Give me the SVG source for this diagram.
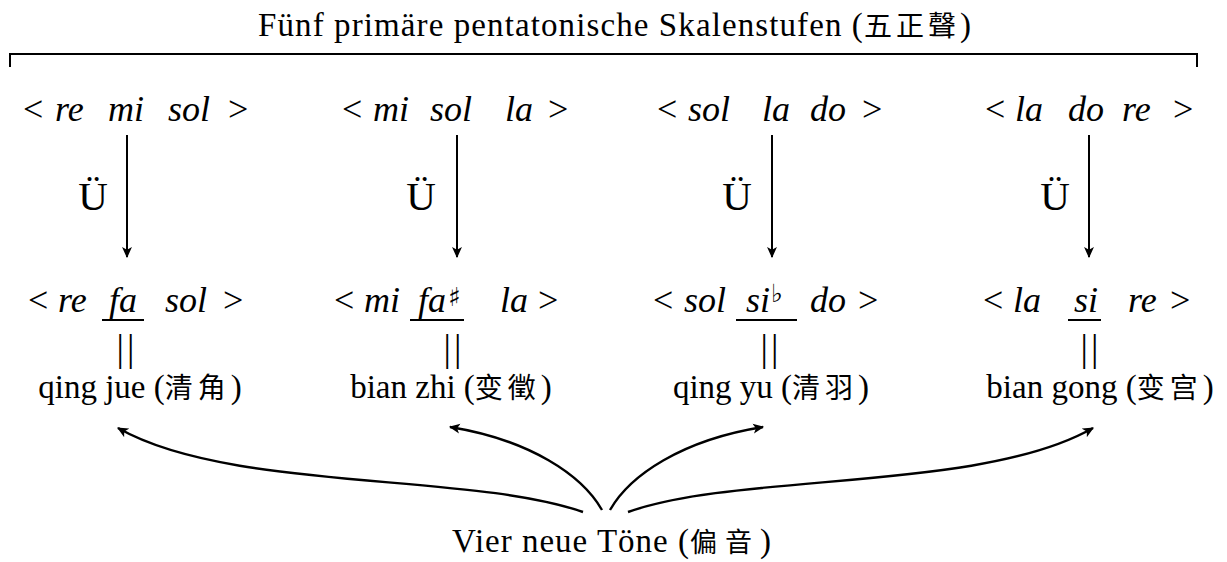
<svg xmlns="http://www.w3.org/2000/svg" width="1227" height="562" viewBox="0 0 1227 562">
<style>
  .t { font-family: "Liberation Serif", "Times New Roman", "Noto Sans CJK SC", serif; fill: #000; }
  .row { font-size: 36px; }
  .it { font-style: italic; }
  .cjk { font-family: "Noto Sans CJK SC", "Noto Sans CJK TC", sans-serif; }
  .lab { font-size: 33px; }
  .u { font-size: 41px; }
  .bar { font-size: 37px; letter-spacing: 3px; }
  .sym { font-family: "DejaVu Sans", "DejaVu Serif", sans-serif; font-style: normal; }
  .ln { stroke: #000; stroke-width: 2; fill: none; }
  .cv { stroke: #000; stroke-width: 2.4; fill: none; }
</style>
<defs>
  <marker id="ah" viewBox="0 0 10 10" refX="9" refY="5" markerWidth="11" markerHeight="11" markerUnits="userSpaceOnUse" orient="auto">
    <path d="M0,0.5 L10,5 L0,9.5 L2.5,5 Z" fill="#000"/>
  </marker>
</defs>

<g id="title">
  <text class="t" x="258" y="36" font-size="33" letter-spacing="1.1">Fünf primäre pentatonische Skalenstufen (<tspan class="cjk" font-size="28" letter-spacing="4">五正聲</tspan>)</text>
  <path class="ln" d="M10,67 V54 H1197 V67"/>
</g>

<g id="group1">
  <text class="t row" y="121"><tspan x="23">&lt;</tspan><tspan class="it" x="55">re</tspan><tspan class="it" x="108">mi</tspan><tspan class="it" x="168">sol</tspan><tspan x="228">&gt;</tspan></text>
  <text class="t u" x="93" y="210" text-anchor="middle">Ü</text>
  <text class="t row" y="312"><tspan x="28">&lt;</tspan><tspan class="it" x="58">re</tspan><tspan class="it" x="109">fa</tspan><tspan class="it" x="165">sol</tspan><tspan x="223">&gt;</tspan></text>
  <line class="ln" x1="102" y1="320" x2="144" y2="320"/>
  <text class="t bar" x="127" y="361" text-anchor="middle">||</text>
  <text class="t lab" x="140" y="398" text-anchor="middle">qing jue (<tspan class="cjk" font-size="28" letter-spacing="5">清角</tspan>)</text>
</g>

<g id="group2">
  <text class="t row" y="121"><tspan x="342">&lt;</tspan><tspan class="it" x="373">mi</tspan><tspan class="it" x="430">sol</tspan><tspan class="it" x="505">la</tspan><tspan x="548">&gt;</tspan></text>
  <text class="t u" x="421" y="210" text-anchor="middle">Ü</text>
  <text class="t row" y="312"><tspan x="334">&lt;</tspan><tspan class="it" x="364">mi</tspan><tspan class="it" x="418">fa</tspan><tspan class="sym" x="448" y="306" font-size="26">♯</tspan><tspan class="it" x="500" y="312">la</tspan><tspan x="538">&gt;</tspan></text>
  <line class="ln" x1="410" y1="320" x2="464" y2="320"/>
  <text class="t bar" x="454" y="361" text-anchor="middle">||</text>
  <text class="t lab" x="451" y="398" text-anchor="middle">bian zhi (<tspan class="cjk" font-size="28" letter-spacing="5">变徵</tspan>)</text>
</g>

<g id="group3">
  <text class="t row" y="121"><tspan x="657">&lt;</tspan><tspan class="it" x="688">sol</tspan><tspan class="it" x="762">la</tspan><tspan class="it" x="810">do</tspan><tspan x="862">&gt;</tspan></text>
  <text class="t u" x="737" y="210" text-anchor="middle">Ü</text>
  <text class="t row" y="312"><tspan x="653">&lt;</tspan><tspan class="it" x="684">sol</tspan><tspan class="it" x="746">si</tspan><tspan class="sym" x="771" y="302" font-size="25">♭</tspan><tspan class="it" x="810" y="312">do</tspan><tspan x="858">&gt;</tspan></text>
  <line class="ln" x1="736" y1="320" x2="797" y2="320"/>
  <text class="t bar" x="771" y="361" text-anchor="middle">||</text>
  <text class="t lab" x="771" y="398" text-anchor="middle">qing yu (<tspan class="cjk" font-size="28" letter-spacing="5">清羽</tspan>)</text>
</g>

<g id="group4">
  <text class="t row" y="121"><tspan x="985">&lt;</tspan><tspan class="it" x="1015">la</tspan><tspan class="it" x="1068">do</tspan><tspan class="it" x="1122">re</tspan><tspan x="1173">&gt;</tspan></text>
  <text class="t u" x="1055" y="210" text-anchor="middle">Ü</text>
  <text class="t row" y="312"><tspan x="983">&lt;</tspan><tspan class="it" x="1013">la</tspan><tspan class="it" x="1074">si</tspan><tspan class="it" x="1128">re</tspan><tspan x="1170">&gt;</tspan></text>
  <line class="ln" x1="1068" y1="320" x2="1101" y2="320"/>
  <text class="t bar" x="1091" y="361" text-anchor="middle">||</text>
  <text class="t lab" x="1100" y="398" text-anchor="middle">bian gong (<tspan class="cjk" font-size="28" letter-spacing="5">变宫</tspan>)</text>
</g>

<g id="bottom">
  <text class="t" x="612" y="552" font-size="33" letter-spacing="1" text-anchor="middle">Vier neue Töne (<tspan class="cjk" font-size="27" letter-spacing="8">偏音</tspan>)</text>
</g>

<g id="connectors">
  <line class="ln" x1="127" y1="135" x2="127" y2="257" marker-end="url(#ah)"/>
  <line class="ln" x1="457" y1="135" x2="457" y2="257" marker-end="url(#ah)"/>
  <line class="ln" x1="772" y1="135" x2="772" y2="257" marker-end="url(#ah)"/>
  <line class="ln" x1="1089" y1="135" x2="1089" y2="257" marker-end="url(#ah)"/>
  <path class="cv" d="M583,512 C470,472 230,492 118,428" marker-end="url(#ah)"/>
  <path class="cv" d="M602,510 C582,475 530,440 450,427" marker-end="url(#ah)"/>
  <path class="cv" d="M610,510 C630,475 682,440 763,427" marker-end="url(#ah)"/>
  <path class="cv" d="M628,512 C741,472 981,492 1093,428" marker-end="url(#ah)"/>
</g>
</svg>
